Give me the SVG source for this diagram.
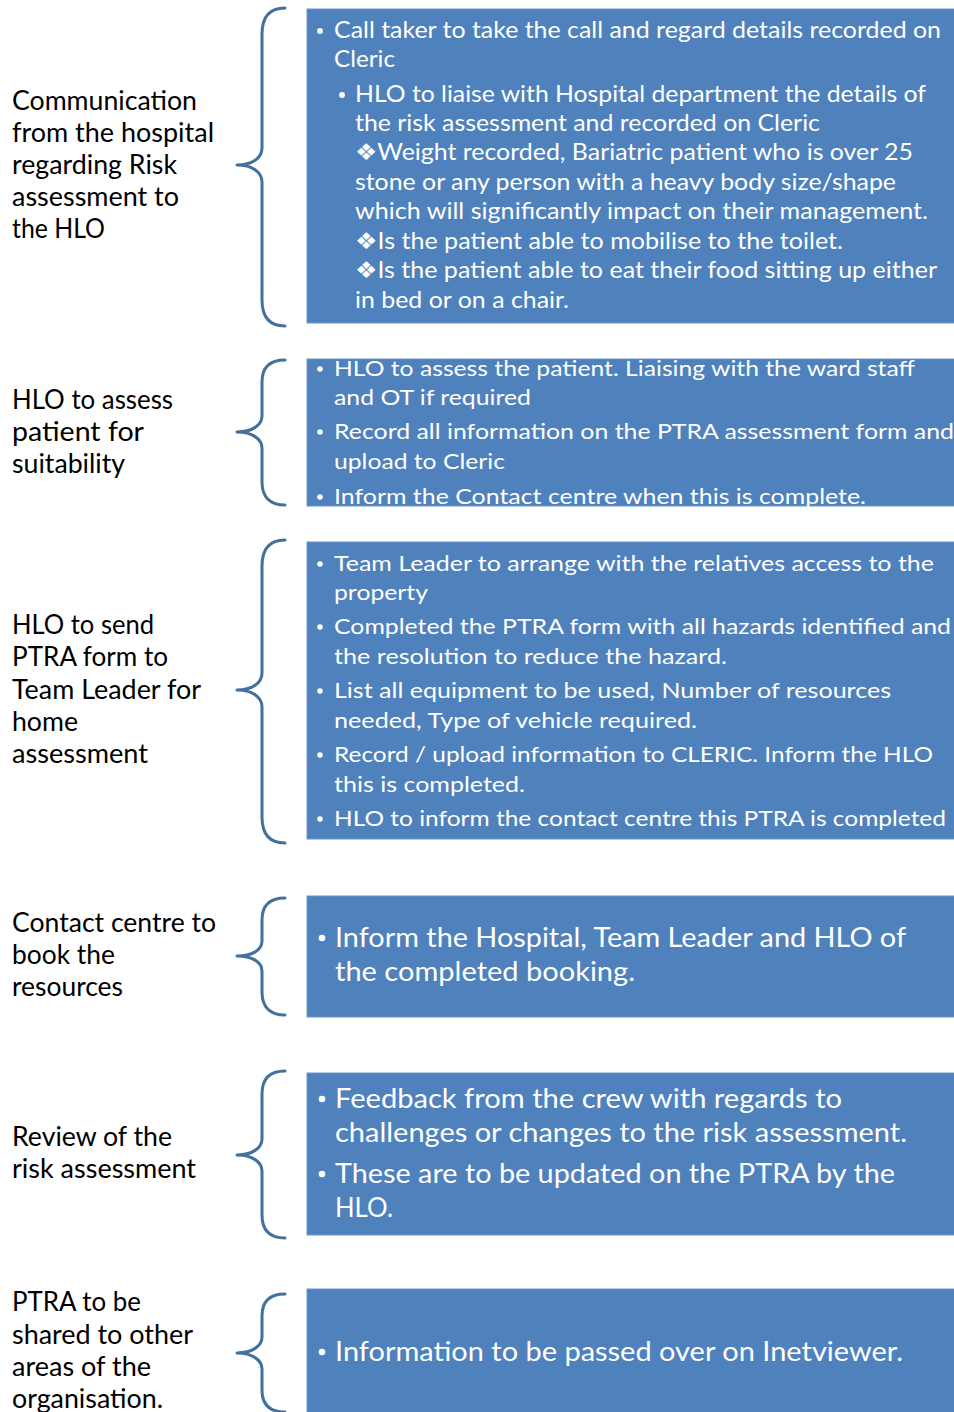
<svg xmlns="http://www.w3.org/2000/svg" width="954" height="1412" viewBox="0 0 954 1412">
<style>
.box{fill:#4F81BD;stroke:#6C94C8;stroke-width:1}
.brace{fill:none;stroke:#41719C;stroke-width:3;stroke-linecap:round;stroke-linejoin:round}
.lbl{font-family:Lato,"Open Sans","Liberation Sans",sans-serif;font-size:26px;fill:#000}
.t{font-family:Lato,"Open Sans","DejaVu Sans","Liberation Sans",sans-serif;font-size:23px;fill:#fff}
.t2{font-family:Lato,"Open Sans","DejaVu Sans","Liberation Sans",sans-serif;font-size:22px;fill:#fff}
.t3{font-family:Lato,"Open Sans","DejaVu Sans","Liberation Sans",sans-serif;font-size:27px;fill:#fff}
.b{fill:#fff}
</style>
<rect width="954" height="1412" fill="#fff"/>
<g id="connectors">
<path class="brace" d="M285,8 C270,8 262,16 262,34 L262,148 C262,158 252,165 237,165 C252,165 262,172 262,182 L262,300 C262,318 270,326 285,326"/>
<path class="brace" d="M285,360 C270,360 262,367 262,382 L262,416 C262,425 252,432 237,432 C252,432 262,439 262,448 L262,482 C262,497 270,505 285,505"/>
<path class="brace" d="M285,540 C270,540 262,548 262,566 L262,673 C262,683 252,690 237,690 C252,690 262,697 262,707 L262,817 C262,835 270,843 285,843"/>
<path class="brace" d="M285,898 C270,898 262,905 262,920 L262,941 C262,950 252,956 237,956 C252,956 262,962 262,971 L262,992 C262,1007 270,1015 285,1015"/>
<path class="brace" d="M285,1071 C270,1071 262,1078 262,1094 L262,1139 C262,1148 252,1155 237,1155 C252,1155 262,1162 262,1171 L262,1215 C262,1231 270,1238 285,1238"/>
<path class="brace" d="M285,1294 C270,1294 262,1301 262,1316 L262,1337 C262,1346 252,1353 237,1353 C252,1353 262,1360 262,1369 L262,1390 C262,1405 270,1412 285,1412"/>
</g>
<g id="label1">
<text class="lbl" x="12" y="110" textLength="185" lengthAdjust="spacingAndGlyphs">Communication</text>
<text class="lbl" x="12" y="142" textLength="202" lengthAdjust="spacingAndGlyphs">from the hospital</text>
<text class="lbl" x="12" y="174" textLength="165" lengthAdjust="spacingAndGlyphs">regarding Risk</text>
<text class="lbl" x="12" y="206" textLength="167" lengthAdjust="spacingAndGlyphs">assessment to</text>
<text class="lbl" x="12" y="238" textLength="93" lengthAdjust="spacingAndGlyphs">the HLO</text>
</g>
<g id="box1">
<rect class="box" x="307" y="9" width="648" height="314"/>
<circle class="b" cx="320" cy="31" r="2.9"/>
<text class="t" x="334" y="38" textLength="607" lengthAdjust="spacingAndGlyphs">Call taker to take the call and regard details recorded on</text>
<text class="t" x="334" y="67" textLength="61" lengthAdjust="spacingAndGlyphs">Cleric</text>
<circle class="b" cx="342" cy="95" r="2.9"/>
<text class="t" x="355" y="102" textLength="571" lengthAdjust="spacingAndGlyphs">HLO to liaise with Hospital department the details of</text>
<text class="t" x="355" y="131" textLength="465" lengthAdjust="spacingAndGlyphs">the risk assessment and recorded on Cleric</text>
<text class="t" x="355" y="160" textLength="558" lengthAdjust="spacingAndGlyphs">❖Weight recorded, Bariatric patient who is over 25</text>
<text class="t" x="355" y="190" textLength="541" lengthAdjust="spacingAndGlyphs">stone or any person with a heavy body size/shape</text>
<text class="t" x="355" y="219" textLength="573" lengthAdjust="spacingAndGlyphs">which will significantly impact on their management.</text>
<text class="t" x="355" y="249" textLength="488" lengthAdjust="spacingAndGlyphs">❖Is the patient able to mobilise to the toilet.</text>
<text class="t" x="355" y="278" textLength="582" lengthAdjust="spacingAndGlyphs">❖Is the patient able to eat their food sitting up either</text>
<text class="t" x="355" y="308" textLength="214" lengthAdjust="spacingAndGlyphs">in bed or on a chair.</text>
</g>
<g id="label2">
<text class="lbl" x="12" y="409" textLength="161" lengthAdjust="spacingAndGlyphs">HLO to assess</text>
<text class="lbl" x="12" y="441" textLength="132" lengthAdjust="spacingAndGlyphs">patient for</text>
<text class="lbl" x="12" y="473" textLength="113" lengthAdjust="spacingAndGlyphs">suitability</text>
</g>
<g id="box2">
<rect class="box" x="307" y="359" width="648" height="147"/>
<circle class="b" cx="320" cy="369" r="2.8"/>
<text class="t2" x="334" y="376" textLength="581" lengthAdjust="spacingAndGlyphs">HLO to assess the patient. Liaising with the ward staff</text>
<text class="t2" x="334" y="405" textLength="197" lengthAdjust="spacingAndGlyphs">and OT if required</text>
<circle class="b" cx="320" cy="432" r="2.8"/>
<text class="t2" x="334" y="439" textLength="620" lengthAdjust="spacingAndGlyphs">Record all information on the PTRA assessment form and</text>
<text class="t2" x="334" y="469" textLength="171" lengthAdjust="spacingAndGlyphs">upload to Cleric</text>
<circle class="b" cx="320" cy="497" r="2.8"/>
<text class="t2" x="334" y="504" textLength="532" lengthAdjust="spacingAndGlyphs">Inform the Contact centre when this is complete.</text>
</g>
<g id="label3">
<text class="lbl" x="12" y="634" textLength="142" lengthAdjust="spacingAndGlyphs">HLO to send</text>
<text class="lbl" x="12" y="666" textLength="156" lengthAdjust="spacingAndGlyphs">PTRA form to</text>
<text class="lbl" x="12" y="699" textLength="189" lengthAdjust="spacingAndGlyphs">Team Leader for</text>
<text class="lbl" x="12" y="731" textLength="66" lengthAdjust="spacingAndGlyphs">home</text>
<text class="lbl" x="12" y="763" textLength="136" lengthAdjust="spacingAndGlyphs">assessment</text>
</g>
<g id="box3">
<rect class="box" x="307" y="542" width="648" height="297"/>
<circle class="b" cx="320" cy="564" r="2.8"/>
<text class="t2" x="334" y="571" textLength="600" lengthAdjust="spacingAndGlyphs">Team Leader to arrange with the relatives access to the</text>
<text class="t2" x="334" y="600" textLength="94" lengthAdjust="spacingAndGlyphs">property</text>
<circle class="b" cx="320" cy="627" r="2.8"/>
<text class="t2" x="334" y="634" textLength="617" lengthAdjust="spacingAndGlyphs">Completed the PTRA form with all hazards identified and</text>
<text class="t2" x="334" y="664" textLength="393" lengthAdjust="spacingAndGlyphs">the resolution to reduce the hazard.</text>
<circle class="b" cx="320" cy="691" r="2.8"/>
<text class="t2" x="334" y="698" textLength="557" lengthAdjust="spacingAndGlyphs">List all equipment to be used, Number of resources</text>
<text class="t2" x="334" y="728" textLength="363" lengthAdjust="spacingAndGlyphs">needed, Type of vehicle required.</text>
<circle class="b" cx="320" cy="755" r="2.8"/>
<text class="t2" x="334" y="762" textLength="599" lengthAdjust="spacingAndGlyphs">Record / upload information to CLERIC. Inform the HLO</text>
<text class="t2" x="334" y="792" textLength="191" lengthAdjust="spacingAndGlyphs">this is completed.</text>
<circle class="b" cx="320" cy="819" r="2.8"/>
<text class="t2" x="334" y="826" textLength="612" lengthAdjust="spacingAndGlyphs">HLO to inform the contact centre this PTRA is completed</text>
</g>
<g id="label4">
<text class="lbl" x="12" y="932" textLength="204" lengthAdjust="spacingAndGlyphs">Contact centre to</text>
<text class="lbl" x="12" y="964" textLength="103" lengthAdjust="spacingAndGlyphs">book the</text>
<text class="lbl" x="12" y="996" textLength="111" lengthAdjust="spacingAndGlyphs">resources</text>
</g>
<g id="box4">
<rect class="box" x="307" y="896" width="648" height="121"/>
<circle class="b" cx="322" cy="938" r="3.3"/>
<text class="t3" x="335" y="947" textLength="571" lengthAdjust="spacingAndGlyphs">Inform the Hospital, Team Leader and HLO of</text>
<text class="t3" x="335" y="981" textLength="300" lengthAdjust="spacingAndGlyphs">the completed booking.</text>
</g>
<g id="label5">
<text class="lbl" x="12" y="1146" textLength="160" lengthAdjust="spacingAndGlyphs">Review of the</text>
<text class="lbl" x="12" y="1178" textLength="184" lengthAdjust="spacingAndGlyphs">risk assessment</text>
</g>
<g id="box5">
<rect class="box" x="307" y="1073" width="648" height="162"/>
<circle class="b" cx="322" cy="1099" r="3.3"/>
<text class="t3" x="335" y="1108" textLength="507" lengthAdjust="spacingAndGlyphs">Feedback from the crew with regards to</text>
<text class="t3" x="335" y="1142" textLength="572" lengthAdjust="spacingAndGlyphs">challenges or changes to the risk assessment.</text>
<circle class="b" cx="322" cy="1174" r="3.3"/>
<text class="t3" x="335" y="1183" textLength="560" lengthAdjust="spacingAndGlyphs">These are to be updated on the PTRA by the</text>
<text class="t3" x="335" y="1217" textLength="58" lengthAdjust="spacingAndGlyphs">HLO.</text>
</g>
<g id="label6">
<text class="lbl" x="12" y="1311" textLength="129" lengthAdjust="spacingAndGlyphs">PTRA to be</text>
<text class="lbl" x="12" y="1344" textLength="181" lengthAdjust="spacingAndGlyphs">shared to other</text>
<text class="lbl" x="12" y="1376" textLength="139" lengthAdjust="spacingAndGlyphs">areas of the</text>
<text class="lbl" x="12" y="1408" textLength="151" lengthAdjust="spacingAndGlyphs">organisation.</text>
</g>
<g id="box6">
<rect class="box" x="307" y="1289" width="648" height="124"/>
<circle class="b" cx="322" cy="1352" r="3.3"/>
<text class="t3" x="335" y="1361" textLength="568" lengthAdjust="spacingAndGlyphs">Information to be passed over on Inetviewer.</text>
</g>
</svg>
